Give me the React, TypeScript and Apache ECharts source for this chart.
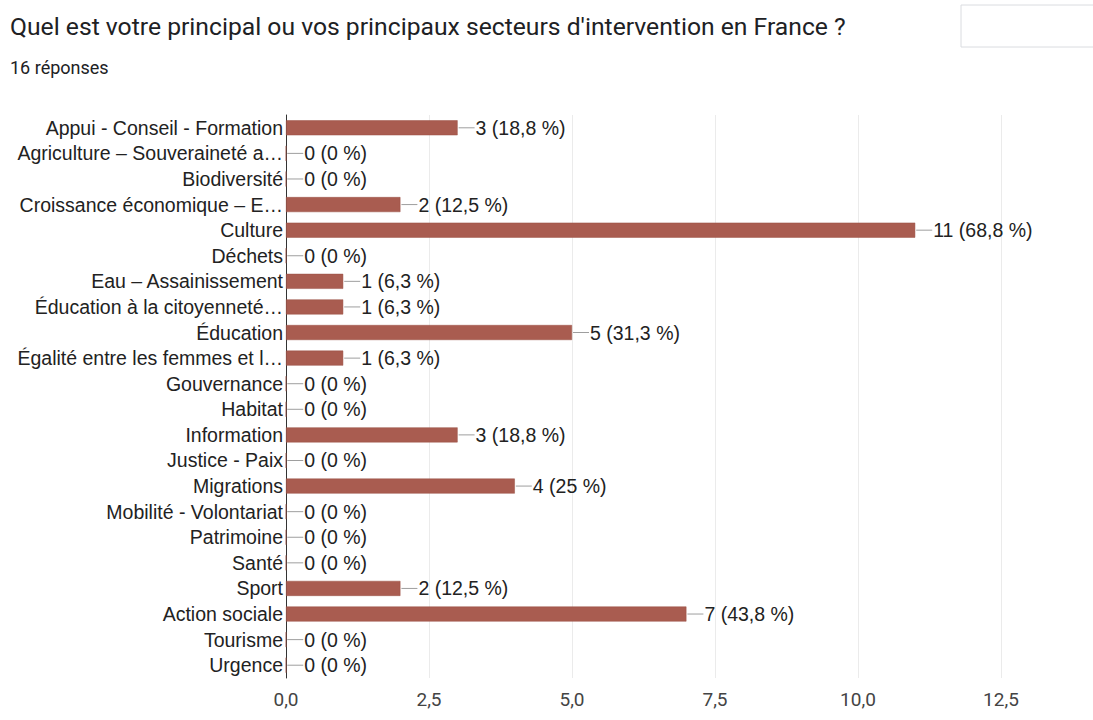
import React, { useEffect, useRef } from "react";
import * as echarts from "echarts";

const categories = [
  "Appui - Conseil - Formation",
  "Agriculture – Souveraineté a…",
  "Biodiversité",
  "Croissance économique – E…",
  "Culture",
  "Déchets",
  "Eau – Assainissement",
  "Éducation à la citoyenneté…",
  "Éducation",
  "Égalité entre les femmes et l…",
  "Gouvernance",
  "Habitat",
  "Information",
  "Justice - Paix",
  "Migrations",
  "Mobilité - Volontariat",
  "Patrimoine",
  "Santé",
  "Sport",
  "Action sociale",
  "Tourisme",
  "Urgence",
];
const counts = [3, 0, 0, 2, 11, 0, 1, 1, 5, 1, 0, 0, 3, 0, 4, 0, 0, 0, 2, 7, 0, 0];
const totalResponses = 16;
const titleText = "Quel est votre principal ou vos principaux secteurs d'intervention en France ?";
const subtitleText = "16 réponses";
const xTicks = [0, 2.5, 5, 7.5, 10, 12.5];

const fmtNum = (v: number) => v.toFixed(1).replace(".", ",");
const fmtPct = (n: number) => {
  const p = (n / totalResponses) * 100;
  const s = Number.isInteger(p) ? String(p) : p.toFixed(1);
  return s.replace(".", ",");
};

export default function App() {
  const ref = useRef<HTMLDivElement>(null);
  useEffect(() => {
    if (!ref.current) return;
    const chart = echarts.init(ref.current, null, { renderer: "svg" });
    chart.setOption({
      animation: false,
      backgroundColor: "#ffffff",
      title: [
        {
          text: titleText,
          left: 10,
          top: 14,
          padding: 0,
          textStyle: { fontFamily: "Roboto", fontSize: 24.7, fontWeight: "normal", color: "#202124" },
        },
        {
          text: subtitleText,
          left: 10,
          top: 58,
          padding: 0,
          textStyle: { fontFamily: "Roboto", fontSize: 18, fontWeight: "normal", color: "#202124" },
        },
      ],
      graphic: [
        {
          type: "rect",
          shape: { x: 961, y: 5, width: 140, height: 42 },
          style: { fill: "#ffffff", stroke: "#dadce0", lineWidth: 1 },
        },
      ],
      grid: { left: 286, right: 92, top: 115, bottom: 42, containLabel: false },
      xAxis: {
        type: "value",
        min: xTicks[0],
        max: xTicks[xTicks.length - 1],
        interval: 2.5,
        axisLine: { show: false },
        axisTick: { show: false },
        axisLabel: {
          formatter: (v: number) => fmtNum(v),
          fontFamily: "Roboto",
          fontSize: 19,
          color: "#444444",
          margin: 12,
        },
        splitLine: { show: true, lineStyle: { color: "#ebebeb", width: 1 } },
      },
      yAxis: {
        type: "category",
        data: categories,
        inverse: true,
        axisLine: { show: true, lineStyle: { color: "#333333", width: 1 } },
        axisTick: { show: false },
        axisLabel: {
          interval: 0,
          fontFamily: "Liberation Sans",
          fontSize: 19.5,
          color: "#222222",
          margin: 3,
        },
        splitLine: { show: false },
      },
      series: [
        {
          type: "bar",
          data: counts,
          barWidth: 15,
          itemStyle: { color: "#a95c50", borderColor: "#9a5045", borderWidth: 0.5 },
          label: {
            show: true,
            position: "right",
            distance: 1,
            formatter: (p: any) => `{l|}{t|${p.value} (${fmtPct(p.value)} %)}`,
            rich: {
              l: { width: 16, height: 1, backgroundColor: "#9e9e9e" },
              t: { fontFamily: "Liberation Sans", fontSize: 19.5, color: "#222222", padding: [0, 0, 0, 1] },
            },
          },
        },
      ],
    });
    return () => chart.dispose();
  }, []);
  return <div ref={ref} style={{ width: 1093, height: 720, position: "absolute", left: 0, top: 0 }} />;
}
